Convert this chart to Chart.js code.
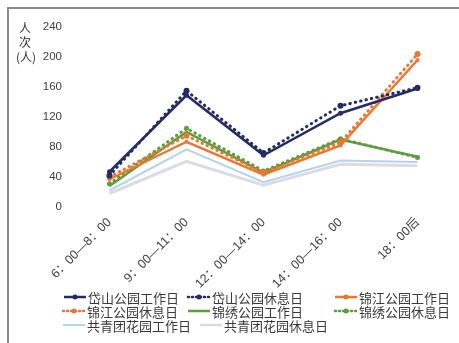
<!DOCTYPE html>
<html>
<head>
<meta charset="utf-8">
<script src="https://cdn.jsdelivr.net/npm/chart.js@4/dist/chart.umd.min.js"></script>
<style>
  body { margin: 0; background: #fff; }
  #frame { position: absolute; left: 7px; top: 7px; width: 452px; height: 336px;
           border-top: 2px solid #8a8a8a; border-left: 2px solid #8a8a8a; }
  #wrap { position: absolute; left: 0; top: 0; width: 459px; height: 343px; }
</style>
</head>
<body>
<div id="frame"></div>
<div id="wrap"><canvas id="visitors" width="459" height="343"></canvas></div>
<script>
const timeSlots = ["6：00—8：00", "9：00—11：00", "12：00—14：00", "14：00—16：00", "18：00后"];
const yTicks = [0, 40, 80, 120, 160, 200, 240];

const daishanWork = [47, 149, 69, 125, 158];
const daishanRest = [42, 155, 72, 135, 159];
const jinjiangWork = [37, 87, 43, 82, 196];
const jinjiangRest = [40, 95, 46, 86, 204];
const jinxiuWork = [28, 100, 46, 90, 67];
const jinxiuRest = [31, 105, 48, 91, 66];
const gqtWork = [22, 77, 33, 62, 60];
const gqtRest = [18, 61, 29, 57, 55];

const seriesNames = [
  "岱山公园工作日", "岱山公园休息日", "锦江公园工作日", "锦江公园休息日",
  "锦绣公园工作日", "锦绣公园休息日", "共青团花园工作日", "共青团花园休息日"
];

const navy = "#232c66";
const orange = "#ec7630";
const green = "#5e9c3c";
const lightBlue = "#b3d3ee";
const lightGray = "#dadce5";
const dots = [0.5, 5];

function solid(data, color, width, radius) {
  return { data: data, borderColor: color, backgroundColor: color, borderWidth: width,
    pointRadius: radius, pointHoverRadius: radius, pointBorderWidth: 0, tension: 0 };
}
function dotted(data, color, width, radius) {
  let d = solid(data, color, width, radius);
  d.borderDash = dots;
  d.borderCapStyle = "round";
  return d;
}

const datasets = [
  solid(daishanWork, navy, 2.5, 2.5),
  dotted(daishanRest, navy, 3, 3),
  solid(jinjiangWork, orange, 2.5, 2),
  dotted(jinjiangRest, orange, 3, 3),
  solid(jinxiuWork, green, 2.5, 0),
  dotted(jinxiuRest, green, 3, 2.5),
  solid(gqtWork, lightBlue, 2, 0),
  solid(gqtRest, lightGray, 3, 0),
];
datasets.forEach((d, i) => (d.label = seriesNames[i]));

// legend slots (symbol start x, row y)
const legendSlots = [
  [64, 297], [188, 297], [335, 297],
  [63, 311], [188, 311], [335, 311],
  [63, 325], [200, 325]
];

const cjk = "'Noto Sans CJK SC', 'Noto Sans', sans-serif";

const extras = {
  id: "extras",
  afterDraw(chart) {
    const ctx = chart.ctx;
    ctx.save();
    // y axis title, stacked
    ctx.fillStyle = "#333";
    ctx.font = "12px " + cjk;
    ctx.textAlign = "center";
    ctx.textBaseline = "middle";
    ctx.fillText("人", 25, 28);
    ctx.fillText("次", 25, 42);
    ctx.fillText("(人)", 26, 57);

    // legend
    ctx.font = "13px " + cjk;
    ctx.textAlign = "left";
    chart.data.datasets.forEach((ds, i) => {
      const [x, y] = legendSlots[i];
      ctx.strokeStyle = ds.borderColor;
      ctx.lineWidth = Math.min(ds.borderWidth, 2.5);
      ctx.setLineDash(ds.borderDash ? [1, 3] : []);
      ctx.lineCap = ds.borderDash ? "round" : "butt";
      ctx.beginPath();
      ctx.moveTo(x, y);
      ctx.lineTo(x + 22, y);
      ctx.stroke();
      ctx.setLineDash([]);
      if (ds.pointRadius > 0) {
        ctx.fillStyle = ds.borderColor;
        ctx.beginPath();
        ctx.arc(x + 11, y, 2.5, 0, Math.PI * 2);
        ctx.fill();
      }
      ctx.fillStyle = "#3a3a3a";
      ctx.fillText(ds.label, x + 24, y + 1);
    });
    ctx.restore();
  }
};

new Chart(document.getElementById("visitors"), {
  type: "line",
  data: { labels: timeSlots, datasets: datasets },
  options: {
    responsive: false,
    animation: false,
    devicePixelRatio: 1,
    layout: { padding: { top: 27, right: -4, bottom: 0, left: 0 } },
    plugins: { legend: { display: false }, tooltip: { enabled: false } },
    scales: {
      x: {
        offset: true,
        grid: { display: false },
        border: { display: false },
        ticks: {
          color: "#404040",
          font: { size: 12.5, family: "'Liberation Sans', " + cjk },
          minRotation: 45,
          maxRotation: 45,
          padding: 0
        },
        afterFit: (s) => { s.height = 136; }
      },
      y: {
        min: 0,
        max: 240,
        grid: { display: false },
        border: { display: false },
        afterBuildTicks: (s) => { s.ticks = yTicks.map((v) => ({ value: v })); },
        ticks: {
          color: "#404040",
          font: { size: 11.5, family: "'Liberation Sans', sans-serif" },
          padding: 1
        },
        afterFit: (s) => { s.width = 71; }
      }
    }
  },
  plugins: [extras]
});
</script>
</body>
</html>
